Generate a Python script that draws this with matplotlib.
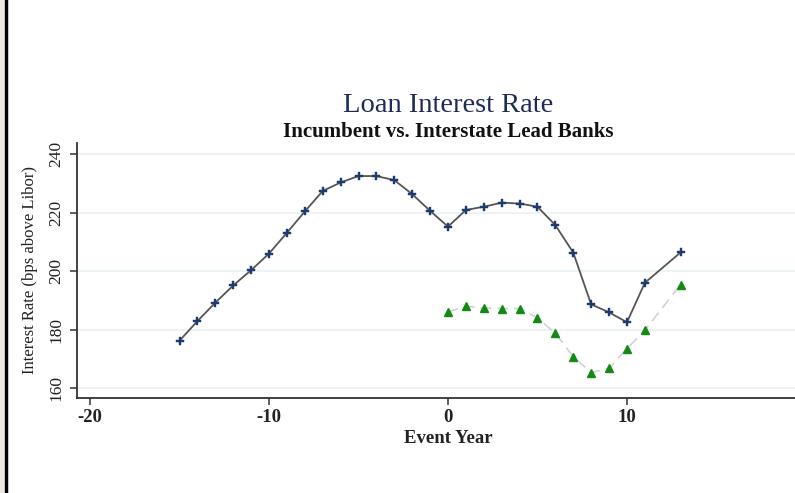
import matplotlib.pyplot as plt
from matplotlib.patches import Rectangle
from matplotlib.lines import Line2D

# event years and rates (bps above Libor)
incumbent_years = [-15, -14, -13, -12, -11, -10, -9, -8, -7, -6, -5, -4, -3, -2, -1,
                   0, 1, 2, 3, 4, 5, 6, 7, 8, 9, 10, 11, 13]
incumbent_rate = [176.2, 182.9, 189.2, 195.1, 200.3, 206.0, 213.1, 220.4, 227.4, 230.3,
                  232.5, 232.5, 231.1, 226.3, 220.6, 215.2, 220.9, 222.0, 223.4, 223.1,
                  222.0, 215.7, 206.3, 188.6, 185.9, 182.5, 196.0, 206.4]

interstate_years = [0, 1, 2, 3, 4, 5, 6, 7, 8, 9, 10, 11, 13]
interstate_rate = [186.0, 188.0, 187.4, 187.2, 187.2, 184.0, 178.7, 170.7, 165.3, 166.7,
                   173.5, 179.8, 195.4]

y_ticks = [160, 180, 200, 220, 240]
x_ticks = [-20, -10, 0, 10]

plt.rcParams['font.family'] = ['Liberation Serif', 'DejaVu Serif']

fig = plt.figure(figsize=(7.95, 4.93), dpi=100)
fig.patch.set_facecolor('white')

# scanned page edge on the left
fig.patches.append(Rectangle((0, 0), 4 / 795, 1, transform=fig.transFigure,
                             facecolor='#eeeae3', edgecolor='none'))
fig.lines.append(Line2D([5.5 / 795, 5.5 / 795], [0, 1], transform=fig.transFigure,
                        color='black', linewidth=2.5))

ax = fig.add_axes([77 / 795, 1 - 398 / 493, 742 / 795, 255 / 493])
ax.set_xlim(-20.73, 20.73)
ax.set_ylim(156.6, 243.8)

for y in y_ticks:
    ax.axhline(y, color='#e8f1f2', linewidth=1.2, zorder=0)

ax.plot(incumbent_years, incumbent_rate, color='#555555', linewidth=1.3,
        marker='P', markersize=5.5, markerfacecolor='#1c3b6e',
        markeredgecolor='#1c3b6e', markeredgewidth=0.3, zorder=3)
ax.plot(interstate_years, interstate_rate, color='#cfcfcf', linewidth=1.1,
        linestyle=(0, (7, 4)), marker='^', markersize=5.5,
        markerfacecolor='#138a13', markeredgecolor='#138a13', zorder=3)

ax.set_xticks(x_ticks)
ax.set_xticklabels([str(t) for t in x_ticks], fontweight='bold')
ax.set_yticks(y_ticks)
ax.set_yticklabels([str(t) for t in y_ticks], rotation=90, va='center')

for side in ['top', 'right']:
    ax.spines[side].set_visible(False)
for side in ['left', 'bottom']:
    ax.spines[side].set_color('#333333')
    ax.spines[side].set_linewidth(1.3)

ax.tick_params(axis='both', colors='#333333', labelcolor='#222222',
               length=5, width=1.1)
ax.tick_params(axis='x', pad=3, labelsize=13.5)
ax.tick_params(axis='y', pad=4, labelsize=12.5)

ax.set_xlabel('Event Year', fontsize=13.5, fontweight='bold', color='#222222', labelpad=3)
fig.text(30 / 795, 1 - 270 / 493, 'Interest Rate (bps above Libor)', rotation=90,
         ha='center', va='center', fontsize=12, color='#222222')

fig.text(448 / 795, 1 - 106 / 493, 'Loan Interest Rate', ha='center', va='center',
         fontsize=20.5, color='#1d2a55')
fig.text(448 / 795, 1 - 132 / 493, 'Incumbent vs. Interstate Lead Banks', ha='center',
         va='center', fontsize=15, fontweight='bold', color='#111111')

fig.savefig('out.png', dpi=100)
